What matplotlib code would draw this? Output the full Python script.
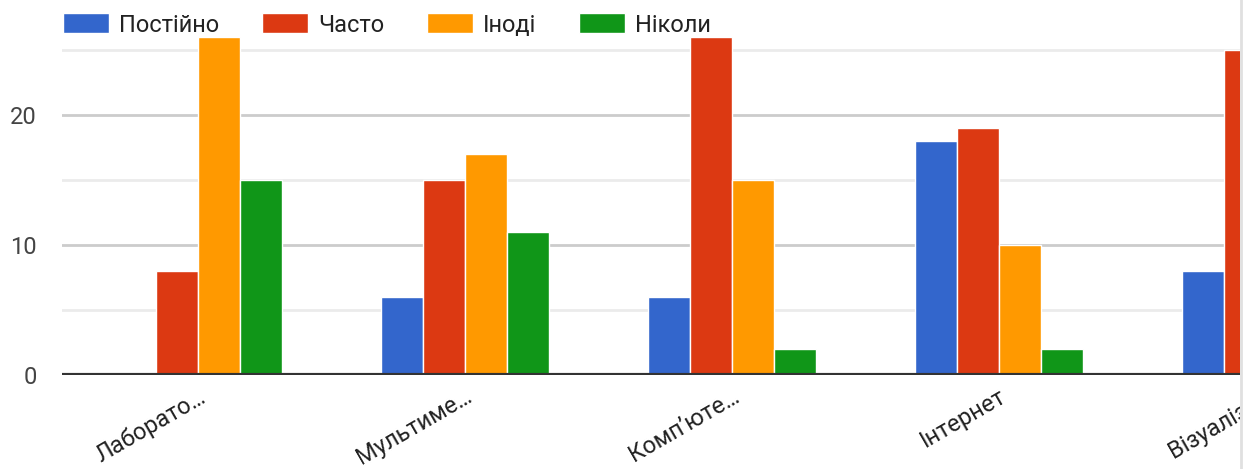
import numpy as np
import matplotlib.pyplot as plt
from matplotlib.lines import Line2D
from matplotlib.transforms import Bbox, TransformedBbox

plt.rcParams['font.family'] = ['Roboto', 'DejaVu Sans']

categories = ["Лаборато…", "Мультиме…", "Комп’юте…", "Інтернет", "Візуаліза…"]
series = ["Постійно", "Часто", "Іноді", "Ніколи"]
# values not visible in the picture (cut off on the right) are left as nan
postiyno = [0, 6, 6, 18, 8]
chasto = [8, 15, 26, 19, 25]
inodi = [26, 17, 15, 10, np.nan]
nikoly = [15, 11, 2, 2, np.nan]
colors = ["#3366cc", "#dc3912", "#ff9900", "#109618"]

W, H = 1254, 469
fig = plt.figure(figsize=(W / 100, H / 100), dpi=100)
ax = fig.add_axes([62 / W, (H - 375) / H, 1178 / W, 338 / H])

x = np.arange(len(categories))
w = 0.157
for i, (name, vals) in enumerate(zip(series, [postiyno, chasto, inodi, nikoly])):
    ax.bar(x + (i - 1.5) * w, vals, width=w, color=colors[i], edgecolor="white",
           linewidth=1, label=name, zorder=3)

# gridlines
for v in [5, 15, 25]:
    ax.axhline(v, color="#ebebeb", lw=2, zorder=1)
for v in [10, 20]:
    ax.axhline(v, color="#cccccc", lw=2, zorder=1)
ax.axhline(0, color="#333333", lw=3, zorder=4)

for s in ax.spines.values():
    s.set_visible(False)

ax.set_yticks([0, 10, 20])
ax.tick_params(axis="y", length=0, pad=18, labelsize=17, labelcolor="#444444")
ax.set_xticks([])

# the chart is cut off on the right, so the last group lies partly outside
ax.set_xlim(-0.509, 3.903)
ax.set_ylim(0, 26)

clip = TransformedBbox(Bbox([[0, 0], [1240 / W, 1]]), fig.transFigure)
for xi, lab in zip(x, categories):
    t = ax.annotate(lab, xy=(xi, 0), xycoords=("data", "axes fraction"),
                    xytext=(0, -7), textcoords="offset points", rotation=30,
                    ha="right", va="top", rotation_mode="anchor", fontsize=17,
                    color="#222222", annotation_clip=False)
    if xi > 3.903:
        t.set_clip_box(clip)
        t.set_clip_on(True)

fig.legend(loc="center left", bbox_to_anchor=(63 / W, 1 - 25 / H), ncol=4,
           frameon=False, fontsize=17, borderpad=0, borderaxespad=0,
           handlelength=1.95, handleheight=0.93, handletextpad=0.42,
           columnspacing=1.82, labelcolor="#222222")

fig.add_artist(Line2D([1241 / W, 1241 / W], [0, 1], transform=fig.transFigure,
                      color="#e0e0e0", lw=2))

fig.savefig("out.png", dpi=100)
